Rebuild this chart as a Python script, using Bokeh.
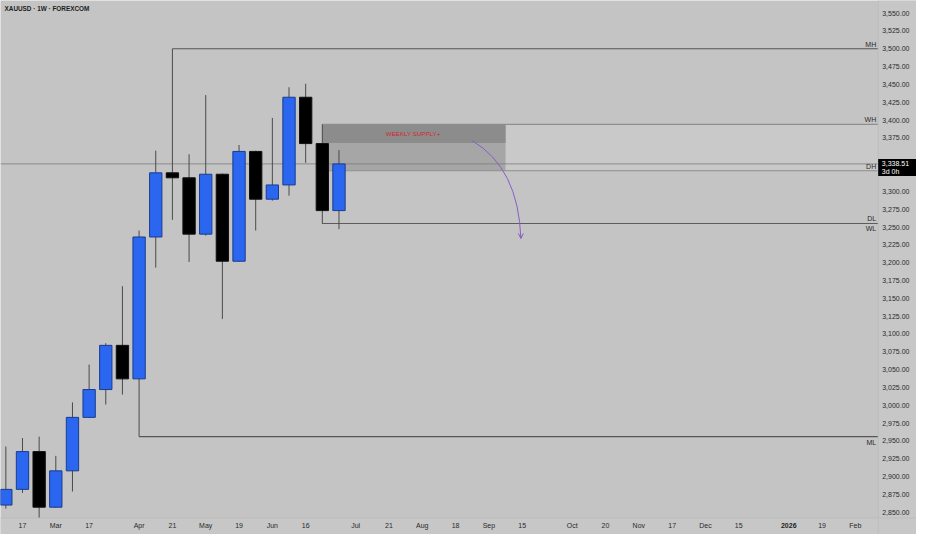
import numpy as np
from bokeh.plotting import figure
from bokeh.models import (ColumnDataSource, FixedTicker, NumeralTickFormatter,
                          Arrow, OpenHead, Range1d)
from bokeh.core.properties import value
from bokeh.embed import file_html
from bokeh.resources import INLINE

# ---------------- data ----------------
weeks = ["2025-02-10", "2025-02-17", "2025-02-24", "2025-03-03", "2025-03-10",
         "2025-03-17", "2025-03-24", "2025-03-31", "2025-04-07", "2025-04-14",
         "2025-04-21", "2025-04-28", "2025-05-05", "2025-05-12", "2025-05-19",
         "2025-05-26", "2025-06-02", "2025-06-09", "2025-06-16", "2025-06-23",
         "2025-06-30"]
opens  = [2860, 2882, 2935, 2857, 2908, 2983, 3022, 3084, 3037, 3236,
          3326, 3319, 3240, 3324, 3202, 3356, 3289, 3309, 3432, 3367, 3273]
highs  = [2942, 2954, 2956, 2929, 3004, 3057, 3087, 3167, 3245, 3357,
          3500, 3352, 3435, 3325, 3365, 3357, 3403, 3446, 3451, 3394, 3358]
lows   = [2855, 2877, 2833, 2856, 2879, 2982, 3001, 3015, 2956, 3193,
          3260, 3201, 3238, 3121, 3201, 3245, 3287, 3294, 3340, 3255, 3247]
closes = [2882, 2935, 2857, 2908, 2983, 3022, 3084, 3037, 3236, 3326,
          3319, 3240, 3324, 3202, 3356, 3289, 3309, 3432, 3367, 3273, 3338.51]

# time axis tick labels (week index counted from 2025-02-10)
tick_weeks  = [1, 3, 5, 8, 10, 12, 14, 16, 18, 21, 23, 25, 27, 29, 31, 34, 36,
               38, 40, 42, 44, 47, 49, 51]
tick_labels = ["17", "Mar", "17", "Apr", "21", "May", "19", "Jun", "16", "Jul",
               "21", "Aug", "18", "Sep", "15", "Oct", "20", "Nov", "17", "Dec",
               "15", "2026", "19", "Feb"]
year_label = "2026"
price_ticks = [2850 + 25 * k for k in range(29)]

# key levels
level_names  = ["MH", "WH", "DH", "DL", "WL", "ML"]
level_prices = [3500, 3394, 3329, 3255, 3255, 2956]
level_start  = [10, 19, 19, 19, 19, 8]
level_text_above = [True, True, True, True, False, False]

# supply zone
zone_left, zone_right = 19, 30
zone_top, zone_mid, zone_bottom = 3394, 3368, 3329
zone_text = "WEEKLY SUPPLY+"
zone_text_x, zone_text_y = 24.45, 3381

# projection arrow (quadratic curve)
arrow_x0, arrow_y0 = 28.0, 3371
arrow_cx, arrow_cy = 30.77, 3333
arrow_x1, arrow_y1 = 30.92, 3234

last_price = 3338.51
countdown = "3d 0h"
title_text = "XAUUSD \u00b7 1W \u00b7 FOREXCOM"

# ---------------- figure ----------------
BG = "#c4c4c4"
PANEL = "#c7c7c7"
FONT = "Liberation Sans"
X0, XEND = -0.32, 54.67          # whole canvas
Y0, YTOP = 2818.7, 3567.7
XB, YB = 52.37, 2841.8           # chart / axis boundaries
PPX = (YTOP - Y0) / 534.0        # price per pixel

p = figure(width=916, height=534, output_backend="svg", toolbar_location=None,
           x_range=Range1d(X0, XEND), y_range=Range1d(Y0, YTOP),
           y_axis_location="right", min_border=0, min_border_left=0,
           min_border_right=0, min_border_top=0, min_border_bottom=0)
p.background_fill_color = BG
p.border_fill_color = BG
p.outline_line_color = None
p.grid.visible = False

# pale band between WH and DH, then supply zone
p.quad(left=[zone_left], right=[XB], top=[zone_top], bottom=[zone_bottom],
       fill_color="#c9c9c9", line_color=None)
p.quad(left=[zone_left], right=[zone_right], top=[zone_top], bottom=[zone_bottom],
       fill_color="#a6a6a6", line_color=None)
p.quad(left=[zone_left], right=[zone_right], top=[zone_top], bottom=[zone_mid],
       fill_color="#8c8c8c", line_color=None)

# current price line
p.segment(x0=[X0], x1=[XB], y0=[last_price], y1=[last_price],
          line_color="#7c7c7c", line_width=0.8)

# key level lines
lvl_colors = ["#555555", "#8e8e8e", "#8e8e8e", "#5c5c5c", "#5c5c5c", "#555555"]
p.segment(x0=level_start, x1=[XB] * len(level_start), y0=level_prices,
          y1=level_prices, line_color=lvl_colors, line_width=1.1)

# candles
idx = list(range(len(weeks)))
up = [c >= o for o, c in zip(opens, closes)]
src = ColumnDataSource(dict(
    x=idx, o=opens, h=highs, l=lows, c=closes,
    top=[max(o, c) for o, c in zip(opens, closes)],
    bot=[min(o, c) for o, c in zip(opens, closes)],
    fill=["#2a66f0" if u else "#000000" for u in up],
    edge=["#1b3c8c" if u else "#111111" for u in up],
))
p.segment(x0="x", x1="x", y0="l", y1="h", source=src, line_color="#4a4a4a", line_width=1)
p.vbar(x="x", width=0.74, top="top", bottom="bot", source=src,
       fill_color="fill", line_color="edge", line_width=1)

# level labels
n = len(level_names)
lx = XB - 0.12
above = ColumnDataSource(dict(x=[lx for i in range(n) if level_text_above[i]],
                              y=[level_prices[i] for i in range(n) if level_text_above[i]],
                              t=[level_names[i] for i in range(n) if level_text_above[i]]))
below = ColumnDataSource(dict(x=[lx for i in range(n) if not level_text_above[i]],
                              y=[level_prices[i] for i in range(n) if not level_text_above[i]],
                              t=[level_names[i] for i in range(n) if not level_text_above[i]]))
p.text(x="x", y="y", text="t", source=above, text_align="right", text_baseline="bottom",
       y_offset=-1, text_font=value(FONT), text_font_size="7px", text_color="#2a2a2a")
p.text(x="x", y="y", text="t", source=below, text_align="right", text_baseline="top",
       y_offset=2, text_font=value(FONT), text_font_size="7px", text_color="#2a2a2a")

# supply text
p.text(x=[zone_text_x], y=[zone_text_y], text=[zone_text], text_align="center",
       text_baseline="middle", text_font=value(FONT),
       text_font_size="6.2px", text_color="#d8262f")

# projection arrow
ARROW = "#8a5cc6"
p.quadratic(x0=[arrow_x0], y0=[arrow_y0], x1=[arrow_x1], y1=[arrow_y1],
            cx=[arrow_cx], cy=[arrow_cy], line_color=ARROW, line_width=1)
p.add_layout(Arrow(end=OpenHead(size=5, line_color=ARROW, line_width=1),
                   x_start=arrow_x1, y_start=arrow_y1 + 4, x_end=arrow_x1, y_end=arrow_y1,
                   line_color=ARROW, line_width=1))

# title
p.text(x=[X0 + 0.24], y=[YTOP - 8 * PPX], text=[title_text], text_align="left",
       text_baseline="middle", text_font=value(FONT), text_font_size="6.4px",
       text_font_style="bold", text_color="#1e1e1e")

# axis panels (price scale on the right, time scale at the bottom)
p.quad(left=[XB], right=[XEND], top=[YTOP], bottom=[Y0], fill_color=PANEL, line_color=None)
p.quad(left=[X0], right=[XEND], top=[YB], bottom=[Y0], fill_color=PANEL, line_color=None)
p.segment(x0=[XB, X0], x1=[XB, XEND], y0=[YTOP, YB], y1=[Y0, YB],
          line_color="#bdbdbd", line_width=1)

# last price box on the price scale
p.quad(left=[XB], right=[XEND], top=[last_price + 5 * PPX],
       bottom=[last_price - 12 * PPX], fill_color="#000000", line_color=None)
p.text(x=[XB + 0.22, XB + 0.22], y=[last_price, last_price],
       text=["{:,.2f}".format(last_price), countdown], y_offset=[0, 7.5],
       text_align="left", text_baseline="middle", text_font=value(FONT),
       text_font_size="7px", text_color="#ffffff")

# bold year label on the time scale
p.text(x=[tick_weeks[tick_labels.index(year_label)]], y=[YB - 7.8 * PPX],
       text=[year_label], text_align="center", text_baseline="middle",
       text_font=value(FONT), text_font_size="7px", text_font_style="bold",
       text_color="#1e1e1e")

# axes drawn inside the canvas at the chart boundaries
xa = p.xaxis[0]
xa.fixed_location = YB
xa.ticker = FixedTicker(ticks=[w for w, l in zip(tick_weeks, tick_labels) if l != year_label])
xa.major_label_overrides = {w: l for w, l in zip(tick_weeks, tick_labels)}
ya = p.yaxis[0]
ya.fixed_location = XB
ya.ticker = FixedTicker(ticks=[t for t in price_ticks if abs(t - last_price) > 15])
ya.formatter = NumeralTickFormatter(format="0,0.00")
for ax in (xa, ya):
    ax.axis_line_color = None
    ax.major_tick_line_color = None
    ax.minor_tick_line_color = None
    ax.major_tick_out = 0
    ax.major_tick_in = 0
    ax.minor_tick_out = 0
    ax.major_label_text_font = FONT
    ax.major_label_text_font_size = "7px"
    ax.major_label_text_color = "#2a2a2a"
xa.major_label_standoff = 4
ya.major_label_standoff = 4

open("out.html", "w").write(file_html(p, INLINE))
